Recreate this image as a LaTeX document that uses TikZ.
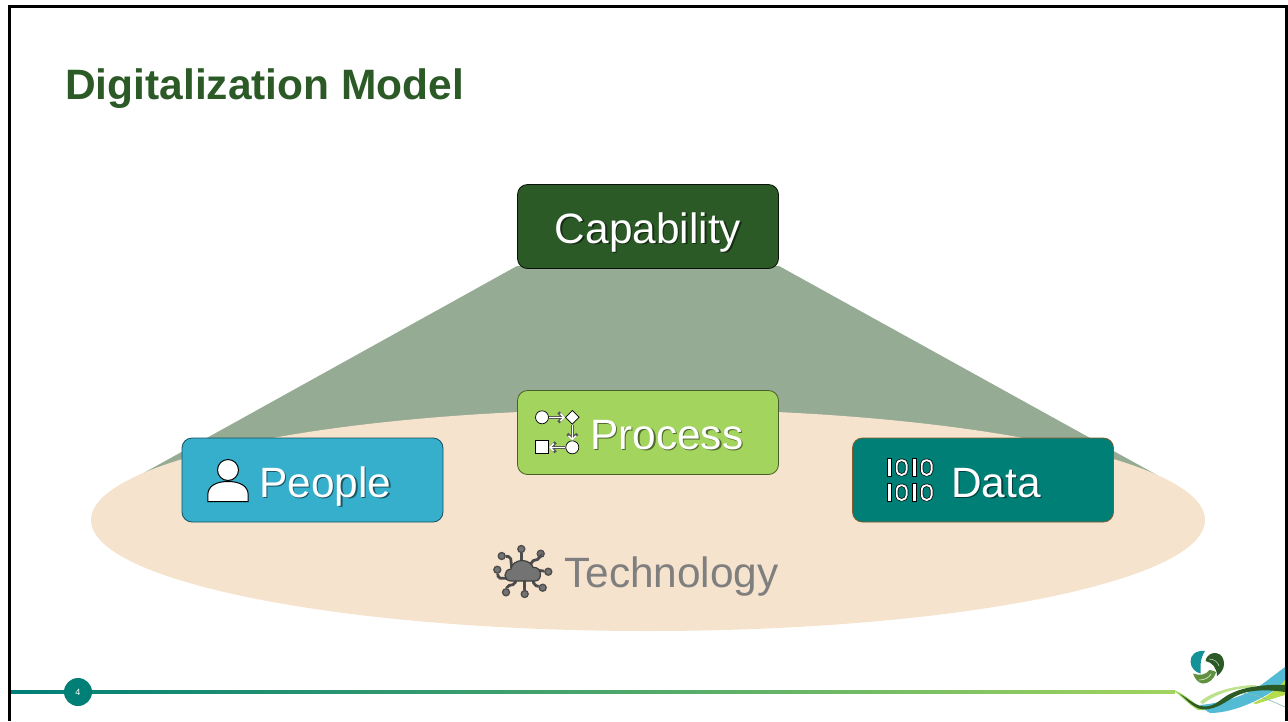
\documentclass[tikz,border=0pt]{standalone}
\usepackage{fontspec}
\setmainfont{Liberation Sans}
\usepackage{tikz}
\usetikzlibrary{arrows.meta,shapes.geometric}

\definecolor{DeepGreen}{HTML}{2B5A27}
\definecolor{SageGreen}{HTML}{95AB94}
\definecolor{Sand}{HTML}{F6E3CD}
\definecolor{Lagoon}{HTML}{35AFCB}
\definecolor{Lime}{HTML}{A2D45E}
\definecolor{Teal}{HTML}{007F77}
\definecolor{Slate}{HTML}{7F7F7F}

\newcommand{\softtext}[2]{\makebox[0pt][l]{\hspace{1.5pt}\raisebox{-1.5pt}{\color{#1}#2}}#2}

\tikzset{
	tile/.style={draw, rounded corners=10pt, minimum width=261pt, minimum height=84pt, line width=.8pt},
	tiletext/.style={text=white, inner sep=0pt, anchor=base west, font=\fontsize{42.4}{50}\selectfont},
	flowshape/.style={draw=black, fill=white, line width=.7pt, inner sep=0pt},
	flowarrow/.style={preaction={draw=black!65, line width=3pt, -{Straight Barb[length=4.5pt,width=10pt]}}, draw=white, line width=1.5pt, -{Straight Barb[length=3.5pt,width=7.5pt]}},
	bitbar/.style={draw=black, fill=white, line width=.8pt},
	bitring/.style={draw=black, double=white, double distance=1.9pt, line width=.7pt, rounded corners=4.5pt},
	wire/.style={draw=black!70, line width=2.8pt, rounded corners=2pt},
	wireend/.style={circle, draw=black!70, fill=black!55, line width=1.3pt, inner sep=0pt, minimum size=7pt},
}

\begin{document}
\begin{tikzpicture}[x=1pt,y=-1pt]
	\useasboundingbox (0,0) rectangle (1288,721);
	\draw[line width=3pt] (9.5,721) -- (9.5,6.5) -- (1286.5,6.5) -- (1286.5,721);

	\node[anchor=base west, inner sep=0pt, text=DeepGreen, font=\fontsize{42.5}{50}\selectfont\bfseries] (title) at (65,99) {Digitalization Model};

	% fan behind the ellipse
	\coordinate (fantopleft) at (517,266);
	\coordinate (fantopright) at (779,266);
	\coordinate (fanleft) at (140,475);
	\coordinate (fanright) at (1157,475);
	\fill[SageGreen] (fantopleft) -- (fanleft) -- (fanright) -- (fantopright) -- cycle;
	\node[ellipse, fill=Sand, minimum width=1114pt, minimum height=222pt, inner sep=0pt] (technologybase) at (648,520) {};

	\node[tile, fill=DeepGreen, draw=black!80!DeepGreen] (capability) at (648,226.5) {};
	\node[tile, fill=Lagoon, draw=Lagoon!45!black] (people) at (312.5,480) {};
	\node[tile, fill=Lime, draw=Lime!45!black] (process) at (648,432.5) {};
	\node[tile, fill=Teal, draw=brown!70!black] (data) at (983,480) {};
	\node[tiletext, anchor=base] (capabilitytext) at (648,243) {\softtext{DeepGreen!50!black}{Capability}};
	\node[tiletext] (peopletext) at (259,497) {\softtext{Lagoon!50!black}{People}};
	\node[tiletext] (processtext) at (590,449) {\softtext{Lime!50!black}{Process}};
	\node[tiletext] (datatext) at (951,497) {\softtext{Teal!50!black}{Data}};
	\node[anchor=base west, inner sep=0pt, text=Slate, font=\fontsize{42.4}{50}\selectfont] (technologytext) at (564,587) {Technology};

	% person
	\draw[flowshape, line width=1pt] (207.8,501.5) -- (207.8,495) .. controls (207.8,486) and (216,481.5) .. (228,481.5) .. controls (240,481.5) and (248.2,486) .. (248.2,495) -- (248.2,501.5) -- cycle;
	\node[flowshape, circle, minimum size=21pt, line width=1pt] (head) at (228,470) {};

	% flow chart
	\node[flowshape, circle, minimum size=13pt] (flowstart) at (542,417.3) {};
	\node[flowshape, diamond, minimum size=14pt] (flowchoice) at (572.3,417.3) {};
	\node[flowshape, circle, minimum size=13pt] (flowmerge) at (572.3,447.3) {};
	\node[flowshape, minimum size=13pt] (flowend) at (542.3,447.3) {};
	\draw[flowarrow] (flowstart) -- (flowchoice);
	\draw[flowarrow] (flowchoice) -- (flowmerge);
	\draw[flowarrow] (flowmerge) -- (flowend);

	% bits
	\foreach \row in {458.5,483.5} {
		\draw[bitbar] (887.2,\row) rectangle (891.2,\row+18);
		\draw[bitring] (896.7,\row+1.7) rectangle (906.6,\row+16.3);
		\draw[bitbar] (912.8,\row) rectangle (916.8,\row+18);
		\draw[bitring] (921.7,\row+1.7) rectangle (931.6,\row+16.3);
	}

	% cloud
	\node[wireend] (wiretop) at (521.3,549) {};
	\node[wireend] (wireupleft) at (501.7,556) {};
	\node[wireend] (wireleft) at (497.3,569.7) {};
	\node[wireend] (wireupright) at (540.7,553.7) {};
	\node[wireend] (wireright) at (548.3,571.7) {};
	\node[wireend] (wiredownright) at (542.7,587.7) {};
	\node[wireend] (wirebottom) at (524.7,594) {};
	\node[wireend] (wiredownleft) at (506,592.3) {};
	\draw[wire] (wiretop) -- (521.3,565);
	\draw[wire] (wireupleft) -- (510.5,556.7) -- (511.7,568);
	\draw[wire] (wireleft) -- (498.3,578.3) -- (508,578.3);
	\draw[wire] (wireupright) -- (539.3,559) -- (531.7,561) -- (530.7,566);
	\draw[wire] (wireright) -- (536,570);
	\draw[wire] (wiredownright) -- (534,585) -- (532.7,578);
	\draw[wire] (wirebottom) -- (524.7,578);
	\draw[wire] (wiredownleft) -- (507.3,585.7) -- (515,584.3) -- (516,578);
	\fill[black!55, draw=black!75, line width=1.2pt] (511,581) .. controls (503,581) and (503,569.5) .. (511,569) .. controls (511,564) and (517,560.5) .. (522,560.5) .. controls (528,560.5) and (532,564) .. (533,567.5) .. controls (542,566) and (543,581) .. (535,581) -- cycle;

	% footer
	\shade[left color=Teal, right color=Lime, middle color=Teal!55!Lime] (11,690.5) rectangle (1175,693.5);
	\node[circle, fill=Teal, minimum size=28pt, inner sep=0pt, text=white, font=\fontsize{9}{10}\selectfont] (pagenumber) at (78,692) {4};

	% logo
	\fill[Teal!60!Lagoon] (1205,651) .. controls (1196,650) and (1190,655) .. (1190.5,662) .. controls (1191,668) and (1195,672) .. (1200.5,673.5) .. controls (1201,668) and (1199,660) .. (1205,651) -- cycle;
	\fill[DeepGreen] (1205.5,661) .. controls (1207,654) and (1213,652.5) .. (1216,653) .. controls (1222,654) and (1224,659) .. (1224,664) .. controls (1224,669) and (1221,673) .. (1217,676) .. controls (1217,668) and (1212,662) .. (1205.5,661) -- cycle;
	\fill[Lime!45!DeepGreen] (1193,673.5) .. controls (1199,676) and (1206,675) .. (1209.5,670) .. controls (1212,670) and (1214,671) .. (1216,672) .. controls (1214,680) and (1208,683.5) .. (1203,683.5) .. controls (1198,683) and (1195,679) .. (1193,673.5) -- cycle;
	\draw[white!70!DeepGreen, line width=.6pt] (1209,659) .. controls (1214,659) and (1218,662) .. (1219,666);
	\draw[white!70!Lime, line width=.6pt] (1199,680) .. controls (1204,680) and (1209,678) .. (1211,674);

	% swoosh
	\fill[Lime!70] (1200,702) .. controls (1210,692) and (1235,685) .. (1257,685) -- (1250,688) .. controls (1235,688) and (1215,694) .. (1203,704) -- cycle;
	\fill[Lagoon!85] (1200,705) .. controls (1222,703) and (1240,697) .. (1257,688) .. controls (1268,680) and (1277,673) .. (1285,667) -- (1285,683) .. controls (1265,698) and (1235,713) .. (1210,713) .. controls (1206,711) and (1203,708) .. (1200,705) -- cycle;
	\fill[Lime!80!yellow] (1253,703) .. controls (1265,698) and (1277,690) .. (1285,680) -- (1285,695) .. controls (1275,698) and (1265,701) .. (1256,704) -- cycle;
	\fill[Lime] (1173,690) .. controls (1182,692) and (1192,702) .. (1205,710) -- (1198,710) .. controls (1188,704) and (1180,695) .. (1173,690) -- cycle;
	\fill[DeepGreen] (1180,694) .. controls (1190,700) and (1195,706) .. (1205,706.5) .. controls (1216,706.5) and (1222,697) .. (1232,693) .. controls (1242,688) and (1262,684) .. (1285,685) -- (1285,692) .. controls (1265,689) and (1248,690) .. (1236,696) .. controls (1226,701) and (1218,709) .. (1204,709.5) .. controls (1194,709) and (1187,700) .. (1180,694) -- cycle;
	\draw[Teal!50, line width=.6pt] (1243,693) .. controls (1258,695) and (1272,701) .. (1285,707);
\end{tikzpicture}
\end{document}
